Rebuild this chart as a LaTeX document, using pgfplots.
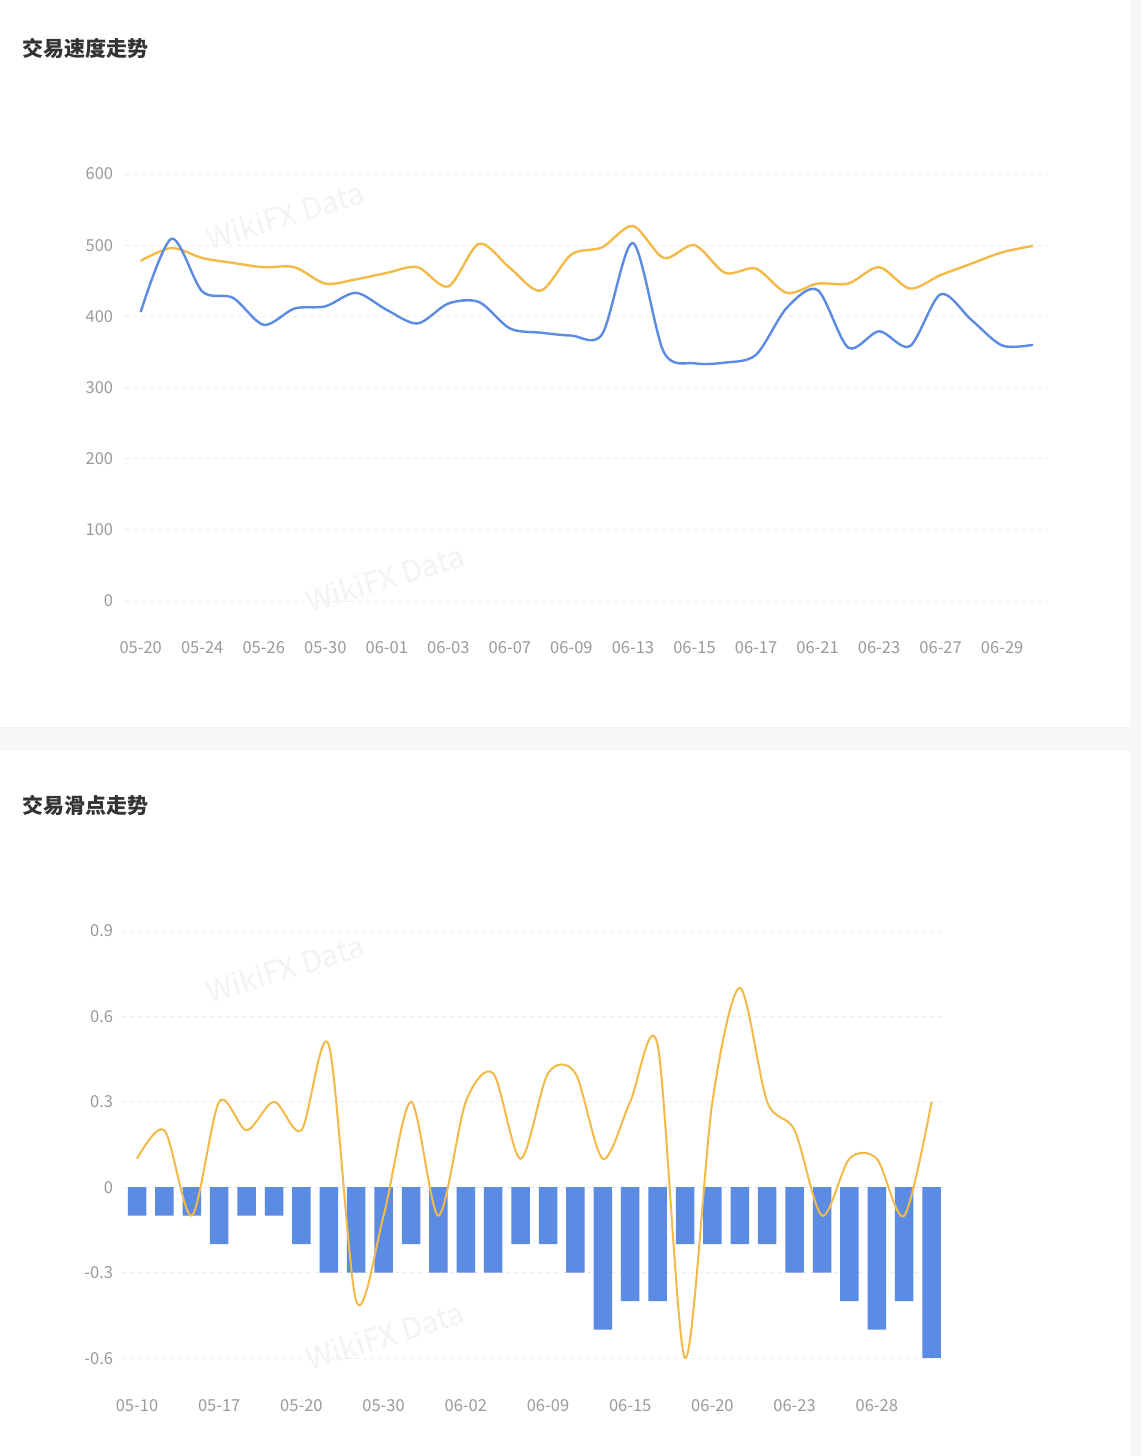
\documentclass[border=0pt]{standalone}
\usepackage{fontspec}
\setmainfont{Noto Sans CJK SC}
\usepackage{pgfplots}
\pgfplotsset{compat=1.18}
\definecolor{cblue}{HTML}{5B8BE3}
\definecolor{cyel}{HTML}{F3BA48}
\definecolor{tickgray}{HTML}{9A9A9A}
\definecolor{gridgray}{HTML}{EBEBEB}
\definecolor{bggray}{HTML}{F7F7F7}
\definecolor{titlec}{HTML}{333333}
\definecolor{wm}{HTML}{F3F3F3}
\pgfplotsset{mystyle/.style={
  scale only axis,
  axis line style={draw=none},
  tick style={draw=none},
  major tick length=0pt,
  ymajorgrids,
  grid style={dash pattern=on 4pt off 4pt, gridgray, line width=0.9pt},
  tick label style={font=\fontsize{16.5}{18}\selectfont, text=tickgray, inner sep=0pt},
  /pgf/number format/assume math mode=true,
  xticklabel style={anchor=base, yshift=-53pt},
  clip=false,
}}
\begin{document}
\begin{tikzpicture}[x=1pt,y=1pt]
\fill[bggray] (0pt,0pt) rectangle (1142pt,1456pt);
\fill[white] (0pt,729pt) rectangle (1130pt,1456pt);
\fill[white] (0pt,0pt) rectangle (1130pt,707pt);
\draw[gridgray!70, line width=0.6pt] (0pt,729pt) -- (1130pt,729pt);
\draw[gridgray!70, line width=0.6pt] (0pt,707pt) -- (1130pt,707pt);
% titles
\node[anchor=west, inner sep=0pt, text=titlec, font=\fontsize{21}{24}\selectfont\bfseries] at (22pt,1408pt) {交易速度走势};
\node[anchor=west, inner sep=0pt, text=titlec, font=\fontsize{21}{24}\selectfont\bfseries] at (22pt,651pt) {交易滑点走势};
% watermarks
\begin{scope}[every node/.style={text=wm, font=\fontsize{30}{30}\selectfont, rotate=17, inner sep=0pt}]
\node at (285pt,1241pt) {WikiFX Data};
\node at (385pt,878pt) {WikiFX Data};
\node at (285pt,488pt) {WikiFX Data};
\node at (385pt,121pt) {WikiFX Data};
\end{scope}
% top chart
\begin{axis}[mystyle,
  at={(125pt,855pt)}, anchor=south west,
  width=923pt, height=427pt,
  xmin=-0.5, xmax=29.5, ymin=0, ymax=600,
  ytick={0,100,200,300,400,500,600},
  yticklabel style={anchor=base east, xshift=-12pt, yshift=-6pt},
  xtick={0,2,4,6,8,10,12,14,16,18,20,22,24,26,28},
  xticklabels={05-20,05-24,05-26,05-30,06-01,06-03,06-07,06-09,06-13,06-15,06-17,06-21,06-23,06-27,06-29},
]
\addplot[cyel, line width=2.4pt, smooth, tension=0.5] coordinates {
(0,478)(1,496)(2,482)(3,475)(4,469)(5,469)(6,446)(7,452)(8,461)(9,469)
(10,442)(11,502)(12,468)(13,436)(14,487)(15,497)(16,527)(17,482)(18,500)(19,461)
(20,467)(21,433)(22,446)(23,446)(24,469)(25,439)(26,458)(27,474)(28,490)(29,499)};
\addplot[cblue, line width=2.4pt, smooth, tension=0.5] coordinates {
(0,406)(1,509)(2,435)(3,426)(4,388)(5,411)(6,414)(7,433)(8,409)(9,390)
(10,418)(11,420)(12,383)(13,377)(14,373)(15,375)(16,503)(17,350)(18,334)(19,335)
(20,346)(21,412)(22,437)(23,356)(24,379)(25,358)(26,431)(27,395)(28,359)(29,360)};
\end{axis}
% bottom chart
\begin{axis}[mystyle,
  at={(123pt,98pt)}, anchor=south west,
  width=822pt, height=427pt,
  xmin=-0.5, xmax=29.5, ymin=-0.6, ymax=0.9,
  ytick={-0.6,-0.3,0,0.3,0.6,0.9},
  yticklabels={-0.6,-0.3,0,0.3,0.6,0.9},
  yticklabel style={anchor=base east, xshift=-10pt, yshift=-6pt},
  xtick={0,3,6,9,12,15,18,21,24,27},
  xticklabels={05-10,05-17,05-20,05-30,06-02,06-09,06-15,06-20,06-23,06-28},
]
\addplot[ybar, bar width=18.5pt, fill=cblue, draw=none] coordinates {
(0,-0.1)(1,-0.1)(2,-0.1)(3,-0.2)(4,-0.1)(5,-0.1)(6,-0.2)(7,-0.3)(8,-0.3)(9,-0.3)
(10,-0.2)(11,-0.3)(12,-0.3)(13,-0.3)(14,-0.2)(15,-0.2)(16,-0.3)(17,-0.5)(18,-0.4)(19,-0.4)
(20,-0.2)(21,-0.2)(22,-0.2)(23,-0.2)(24,-0.3)(25,-0.3)(26,-0.4)(27,-0.5)(28,-0.4)(29,-0.6)};
\addplot[cyel, line width=2pt, smooth, tension=0.5] coordinates {
(0,0.1)(1,0.2)(2,-0.1)(3,0.3)(4,0.2)(5,0.3)(6,0.2)(7,0.5)(8,-0.4)(9,-0.1)
(10,0.3)(11,-0.1)(12,0.3)(13,0.4)(14,0.1)(15,0.4)(16,0.4)(17,0.1)(18,0.3)(19,0.5)
(20,-0.6)(21,0.3)(22,0.7)(23,0.3)(24,0.2)(25,-0.1)(26,0.1)(27,0.1)(28,-0.1)(29,0.3)};
\end{axis}
\end{tikzpicture}
\end{document}
